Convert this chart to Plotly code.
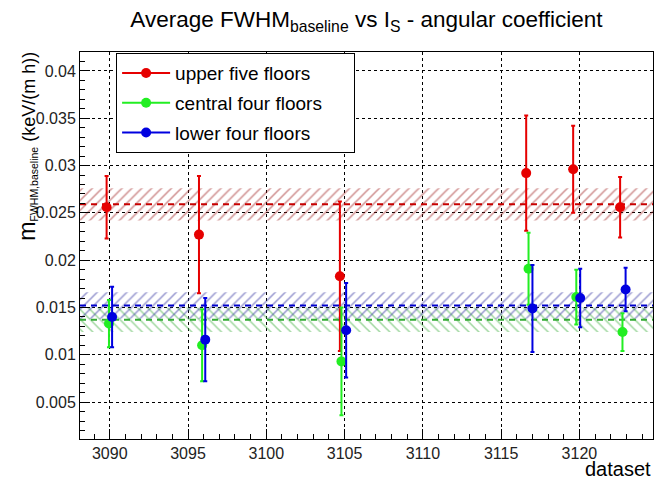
import plotly.graph_objects as go

# ---- data ----
series_names = ["upper five floors", "central four floors", "lower four floors"]
red_x = [3089.8, 3095.7, 3104.7, 3116.6, 3119.6, 3122.6]
red_y = [0.0256, 0.0227, 0.0183, 0.0292, 0.0296, 0.0256]
red_err = [0.0033, 0.0062, 0.0079, 0.0061, 0.0046, 0.0032]
green_x = [3089.95, 3095.9, 3104.8, 3116.75, 3119.8, 3122.75]
green_y = [0.0133, 0.0110, 0.0093, 0.0191, 0.0161, 0.0124]
green_err = [0.0025, 0.0038, 0.0057, 0.0038, 0.0029, 0.0020]
blue_x = [3090.15, 3096.1, 3105.1, 3117.0, 3120.05, 3122.95]
blue_y = [0.0140, 0.0116, 0.0126, 0.0149, 0.0160, 0.0169]
blue_err = [0.0032, 0.0044, 0.0050, 0.0046, 0.0031, 0.0023]
fit_mean = [0.0259, 0.0137, 0.0152]
fit_err = [0.0017, 0.0013, 0.0014]

# ---- style ----
XR = [3088.1, 3124.7]
YR = [0.0011, 0.0420]
FONT = "Liberation Sans, Arial, Helvetica, sans-serif"
point_colors = ["#e60000", "#22ee22", "#0000e0"]
line_colors = ["#c80000", "#33aa33", "#0000cc"]
hatch_colors = ["#a02020", "#40b040", "#3030a0"]
hatch_shapes = ["/", "\\", "/"]
PAD = "\u00a0" * 5

fig = go.Figure()

# bands
for i in range(3):
    lo = fit_mean[i] - fit_err[i]
    hi = fit_mean[i] + fit_err[i]
    fig.add_trace(go.Scatter(
        x=[XR[0], XR[1], XR[1], XR[0], XR[0]],
        y=[lo, lo, hi, hi, lo],
        mode="lines", fill="toself",
        fillcolor="rgba(0,0,0,0)",
        fillpattern=dict(shape=hatch_shapes[i], fgcolor=hatch_colors[i],
                         bgcolor="rgba(0,0,0,0)", size=7, solidity=0.22),
        line=dict(width=0), showlegend=False, hoverinfo="skip"))

# dashed mean lines
for i in range(3):
    fig.add_trace(go.Scatter(
        x=XR, y=[fit_mean[i], fit_mean[i]], mode="lines",
        line=dict(color=line_colors[i], width=2, dash="6px,5px"),
        showlegend=False, hoverinfo="skip"))

# points with error bars
for i, (xs, ys, es) in enumerate([(red_x, red_y, red_err),
                                  (green_x, green_y, green_err),
                                  (blue_x, blue_y, blue_err)]):
    fig.add_trace(go.Scatter(
        x=xs, y=ys, mode="markers", name=series_names[i],
        legendgroup=series_names[i], showlegend=False,
        marker=dict(color=point_colors[i], size=10, symbol="circle"),
        error_y=dict(type="data", array=es, color=point_colors[i],
                     thickness=2, width=2),
    ))

# legend entries (line + marker look)
for i in range(3):
    fig.add_trace(go.Scatter(
        x=[None], y=[None], mode="lines+markers", name=series_names[i] + PAD,
        legendgroup=series_names[i],
        marker=dict(color=point_colors[i], size=10),
        line=dict(color=point_colors[i], width=2)))

axis_common = dict(
    showline=True, linecolor="black", linewidth=1, mirror=True,
    ticks="inside", tickcolor="black", ticklen=10, tickwidth=1,
    showgrid=True, gridcolor="black", griddash="dot", gridwidth=1,
    zeroline=False,
    tickfont=dict(family=FONT, size=16, color="#222222"),
)

ytitle = ("<span style='font-size:23px'>m</span>"
          "<sub>FWHM,baseline</sub>"
          "<span style='font-size:18px'> (keV/(m h))</span>")

fig.update_layout(
    width=656, height=482,
    margin=dict(l=80, r=3, t=52, b=43),
    paper_bgcolor="white", plot_bgcolor="white",
    font=dict(family=FONT, color="black"),
    title=dict(text="Average FWHM<sub>baseline</sub> vs I<sub>S</sub> - angular coefficient",
               x=0.5, xref="paper", xanchor="center",
               y=0.96, yref="container", yanchor="middle",
               font=dict(family=FONT, size=22.5, color="black")),
    xaxis=dict(range=XR, dtick=5, tick0=3090,
               minor=dict(dtick=1, ticks="inside", ticklen=5, tickcolor="black", showgrid=False),
               **axis_common),
    yaxis=dict(range=YR, dtick=0.005, tick0=0, tickformat="~g",
               minor=dict(dtick=0.001, ticks="inside", ticklen=5, tickcolor="black", showgrid=False),
               **axis_common),
    legend=dict(x=0.063, y=0.997, xanchor="left", yanchor="top",
                bordercolor="black", borderwidth=1, bgcolor="white",
                font=dict(family=FONT, size=19, color="black"),
                tracegroupgap=2, itemwidth=48,
                traceorder="grouped"),
    annotations=[
        dict(text=ytitle, textangle=-90,
             xref="paper", yref="paper", x=-0.094, y=1.005,
             xanchor="center", yanchor="top", showarrow=False,
             font=dict(family=FONT, size=15, color="black")),
        dict(text="dataset", xref="paper", yref="paper", x=1.0, y=-0.077,
             xanchor="right", yanchor="middle", showarrow=False,
             font=dict(family=FONT, size=20, color="black")),
    ],
)

fig.write_html("out.html", config={"displayModeBar": False},
               post_script="document.body.style.margin='0';")
